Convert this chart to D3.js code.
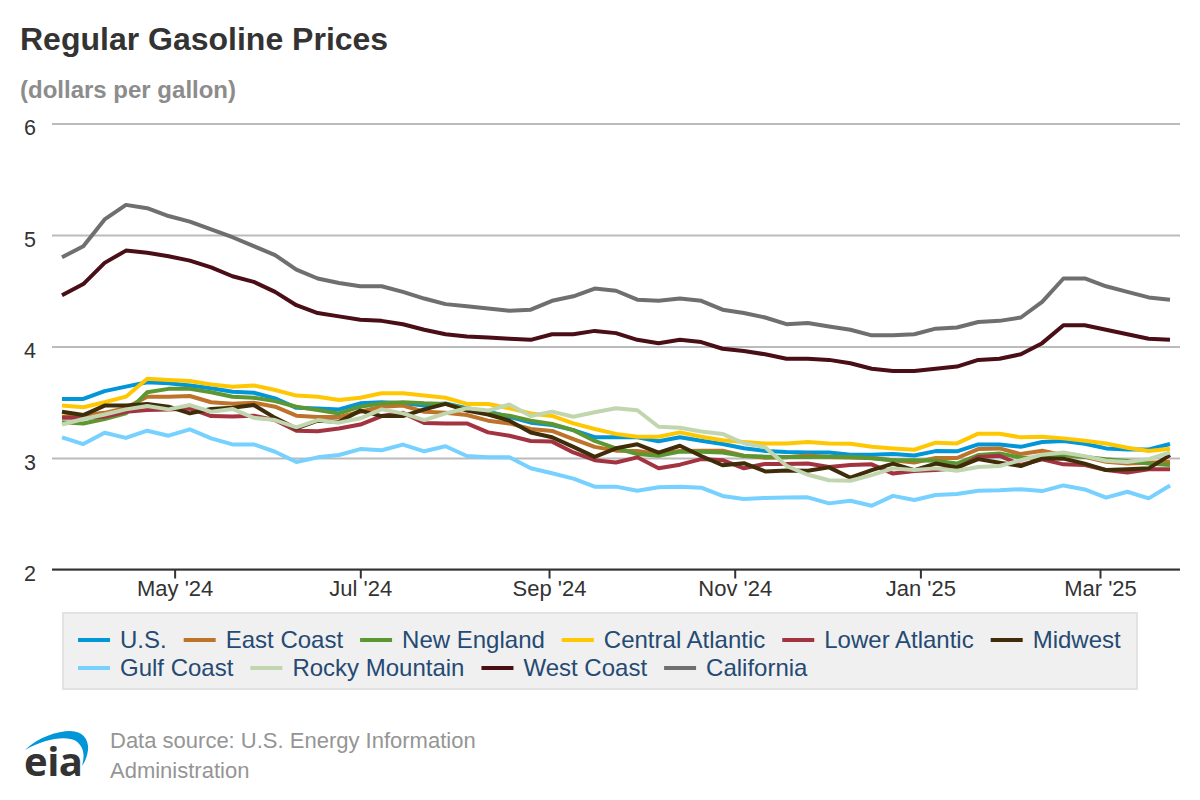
<!DOCTYPE html>
<html>
<head>
<meta charset="utf-8">
<script src="https://cdn.jsdelivr.net/npm/d3@7"></script>
<style>
  html, body { margin: 0; padding: 0; background: #fff; }
  svg { display: block; font-family: "Liberation Sans", Arial, sans-serif; }
</style>
</head>
<body>
<svg id="chart" width="1200" height="800"></svg>
<script>
// weekly readings, Mondays from 25 Mar 2024 to 24 Mar 2025
const firstWeek = '2024-03-25';
const weekCount = 53;

const usPrices = [3.53,3.53,3.60,3.64,3.68,3.67,3.65,3.625,3.595,3.585,3.535,3.45,3.445,3.436,3.49,3.50,3.49,3.47,3.49,3.446,3.416,3.37,3.317,3.296,3.25,3.186,3.186,3.186,3.15,3.186,3.155,3.126,3.087,3.063,3.054,3.05,3.05,3.03,3.03,3.035,3.023,3.062,3.06,3.122,3.122,3.10,3.143,3.152,3.128,3.086,3.077,3.077,3.125];
const eastCoast = [3.37,3.385,3.405,3.45,3.55,3.55,3.556,3.50,3.487,3.496,3.46,3.38,3.367,3.367,3.415,3.46,3.47,3.415,3.405,3.386,3.335,3.31,3.26,3.243,3.17,3.10,3.066,3.063,3.036,3.063,3.066,3.066,3.02,3.003,3.006,3.022,3.01,3.005,3.0,2.98,2.96,3.0,3.0,3.08,3.086,3.035,3.065,3.026,3.01,2.967,2.95,2.957,2.967];
const newEngland = [3.32,3.31,3.35,3.40,3.59,3.62,3.62,3.59,3.55,3.54,3.51,3.46,3.43,3.40,3.46,3.49,3.50,3.49,3.485,3.437,3.40,3.38,3.335,3.305,3.25,3.153,3.087,3.036,3.02,3.057,3.057,3.05,3.018,3.012,3.01,3.01,3.012,3.01,2.997,2.98,2.98,2.975,2.95,3.026,3.04,3.005,2.997,3.026,3.01,2.988,2.973,2.95,2.937];
const centralAtlantic = [3.47,3.455,3.50,3.55,3.71,3.70,3.69,3.66,3.64,3.65,3.61,3.56,3.55,3.52,3.54,3.58,3.58,3.56,3.54,3.485,3.485,3.446,3.40,3.377,3.31,3.26,3.216,3.19,3.19,3.23,3.19,3.16,3.144,3.13,3.13,3.143,3.13,3.128,3.10,3.086,3.074,3.137,3.131,3.218,3.218,3.185,3.19,3.176,3.155,3.13,3.092,3.062,3.083];
const lowerAtlantic = [3.36,3.36,3.37,3.415,3.43,3.436,3.445,3.376,3.373,3.38,3.34,3.245,3.24,3.265,3.30,3.376,3.405,3.314,3.31,3.31,3.23,3.20,3.153,3.147,3.05,2.98,2.96,3.006,2.908,2.94,2.99,2.98,2.908,2.947,2.947,2.95,2.92,2.937,2.943,2.86,2.883,2.892,2.907,3.01,3.02,2.937,2.988,2.943,2.937,2.892,2.87,2.90,2.90];
const midwest = [3.415,3.385,3.47,3.47,3.485,3.46,3.40,3.44,3.45,3.475,3.36,3.265,3.335,3.325,3.425,3.376,3.376,3.436,3.485,3.425,3.39,3.335,3.228,3.186,3.10,3.01,3.087,3.123,3.048,3.11,3.018,2.935,2.953,2.88,2.887,2.885,2.916,2.823,2.892,2.95,2.892,2.95,2.916,2.99,2.957,2.928,2.997,2.994,2.95,2.892,2.90,2.907,3.026];
const gulfCoast = [3.185,3.125,3.227,3.18,3.245,3.20,3.257,3.176,3.122,3.122,3.056,2.964,3.006,3.027,3.08,3.07,3.12,3.06,3.105,3.018,3.006,3.006,2.908,2.863,2.815,2.743,2.743,2.707,2.737,2.743,2.734,2.66,2.633,2.642,2.645,2.647,2.593,2.617,2.572,2.66,2.623,2.668,2.677,2.707,2.71,2.72,2.703,2.754,2.718,2.644,2.697,2.638,2.754];
const rockyMountain = [3.30,3.35,3.39,3.436,3.466,3.436,3.475,3.415,3.44,3.36,3.34,3.275,3.34,3.317,3.356,3.436,3.40,3.34,3.40,3.446,3.425,3.48,3.377,3.416,3.37,3.41,3.446,3.428,3.28,3.272,3.237,3.216,3.132,3.096,2.93,2.85,2.80,2.796,2.847,2.907,2.892,2.907,2.886,2.92,2.928,2.98,3.03,3.05,3.017,2.975,2.964,2.99,3.05];
const westCoast = [4.46,4.56,4.75,4.86,4.84,4.81,4.77,4.71,4.63,4.58,4.49,4.37,4.30,4.27,4.24,4.23,4.20,4.15,4.11,4.09,4.08,4.07,4.06,4.11,4.11,4.14,4.12,4.06,4.03,4.06,4.04,3.98,3.96,3.93,3.89,3.89,3.88,3.85,3.80,3.78,3.78,3.80,3.82,3.88,3.89,3.93,4.03,4.19,4.19,4.15,4.11,4.07,4.06];
const california = [4.80,4.90,5.14,5.27,5.24,5.17,5.12,5.05,4.98,4.90,4.82,4.69,4.61,4.57,4.54,4.54,4.49,4.43,4.38,4.36,4.34,4.32,4.33,4.41,4.45,4.52,4.50,4.42,4.41,4.43,4.41,4.33,4.30,4.26,4.20,4.21,4.18,4.15,4.10,4.10,4.11,4.16,4.17,4.22,4.23,4.26,4.40,4.61,4.61,4.54,4.49,4.44,4.42];

const seriesNames = ['U.S.', 'East Coast', 'New England', 'Central Atlantic', 'Lower Atlantic', 'Midwest', 'Gulf Coast', 'Rocky Mountain', 'West Coast', 'California'];
const seriesValues = [usPrices, eastCoast, newEngland, centralAtlantic, lowerAtlantic, midwest, gulfCoast, rockyMountain, westCoast, california];
const seriesColours = ['#0096d7', '#bd732a', '#5d9732', '#ffc702', '#a33340', '#3f2c08', '#76d1ff', '#c1d6af', '#4a0e16', '#6f6f6f'];

const yTicks = [2, 3, 4, 5, 6];
const xTickDates = ['2024-05-01', '2024-07-01', '2024-09-01', '2024-11-01', '2025-01-01', '2025-03-01'];

const parseDate = d3.utcParse('%Y-%m-%d');
const weeks = d3.range(weekCount).map(i => d3.utcDay.offset(parseDate(firstWeek), i * 7));

const svg = d3.select('#chart');

const plotLeft = 52;
const plotRight = 1180;

const x = d3.scaleUtc()
    .domain([weeks[0], weeks[weeks.length - 1]])
    .range([62, 1170]);
const y = d3.scaleLinear()
    .domain([2, 6])
    .range([569.5, 123.5]);

// headings
svg.append('text').attr('x', 20).attr('y', 50)
    .attr('font-size', 32).attr('font-weight', 700).attr('fill', '#333')
    .text('Regular Gasoline Prices');
svg.append('text').attr('x', 20).attr('y', 98)
    .attr('font-size', 24).attr('font-weight', 700).attr('fill', '#8c8c8c')
    .text('(dollars per gallon)');

// y axis with gridlines
const yAxisG = svg.append('g')
    .attr('transform', `translate(${plotLeft},0)`)
    .call(d3.axisLeft(y).tickValues(yTicks).tickSize(-(plotRight - plotLeft)).tickFormat(d3.format('d')));
yAxisG.select('.domain').remove();
yAxisG.selectAll('.tick line').attr('stroke', '#bbb').attr('stroke-width', 2);
yAxisG.selectAll('.tick text')
    .attr('x', -28).attr('y', 11).attr('dy', 0)
    .attr('text-anchor', 'start')
    .attr('font-family', '"Liberation Sans", Arial, sans-serif')
    .attr('font-size', 21.5).attr('fill', '#333');

// lines
const line = d3.line()
    .x((d, i) => x(weeks[i]))
    .y(d => y(d));

svg.append('g').selectAll('path')
    .data(seriesValues)
    .enter()
    .append('path')
    .attr('d', line)
    .attr('fill', 'none')
    .attr('stroke', (d, i) => seriesColours[i])
    .attr('stroke-width', 4)
    .attr('stroke-linejoin', 'round');

// x axis
const xAxisG = svg.append('g')
    .attr('transform', 'translate(0,569.5)')
    .call(d3.axisBottom(x)
        .tickValues(xTickDates.map(parseDate))
        .tickSize(9)
        .tickSizeOuter(0)
        .tickFormat(d3.utcFormat("%b '%y")));
xAxisG.select('.domain').remove();
xAxisG.append('line')
    .attr('x1', plotLeft).attr('x2', plotRight)
    .attr('stroke', '#333').attr('stroke-width', 2);
xAxisG.selectAll('.tick line').attr('stroke', '#333').attr('stroke-width', 2);
xAxisG.selectAll('.tick text')
    .attr('y', 26).attr('dy', 0)
    .attr('font-family', '"Liberation Sans", Arial, sans-serif')
    .attr('font-size', 22).attr('fill', '#333');

// legend
svg.append('rect')
    .attr('x', 63).attr('y', 613).attr('width', 1074).attr('height', 76)
    .attr('fill', '#f0f0f0').attr('stroke', '#e2e2e2').attr('stroke-width', 2);

const legendRowLength = 6;
const legendGap = 17;
let legendX = 78;
seriesNames.forEach((name, i) => {
    if (i === legendRowLength) legendX = 78;
    const rowY = i < legendRowLength ? 640 : 668;
    svg.append('line')
        .attr('x1', legendX).attr('x2', legendX + 32)
        .attr('y1', rowY).attr('y2', rowY)
        .attr('stroke', seriesColours[i]).attr('stroke-width', 4);
    const label = svg.append('text')
        .attr('x', legendX + 42).attr('y', rowY + 8)
        .attr('font-size', 24).attr('fill', '#254a73')
        .text(name);
    legendX += 42 + label.node().getComputedTextLength() + legendGap;
});

// source note
svg.append('text').attr('x', 110).attr('y', 748)
    .attr('font-size', 22).attr('fill', '#959595')
    .text('Data source: U.S. Energy Information');
svg.append('text').attr('x', 110).attr('y', 778)
    .attr('font-size', 22).attr('fill', '#959595')
    .text('Administration');

// eia logo
const logo = svg.append('g');
logo.append('path')
    .attr('d', 'M25 750 C38 737 58 731 70 731 C84 731 89 741 88 750 C87 757 85 762 82 766 C85 755 84 747 76 741 C66 735 44 739 25 750 Z')
    .attr('fill', '#0096d7');
logo.append('text').attr('x', 24).attr('y', 776)
    .attr('font-family', '"Open Sans", sans-serif')
    .attr('font-size', 40).attr('font-weight', 700).attr('fill', '#333')
    .attr('letter-spacing', -0.5)
    .text('eia');
</script>
</body>
</html>
